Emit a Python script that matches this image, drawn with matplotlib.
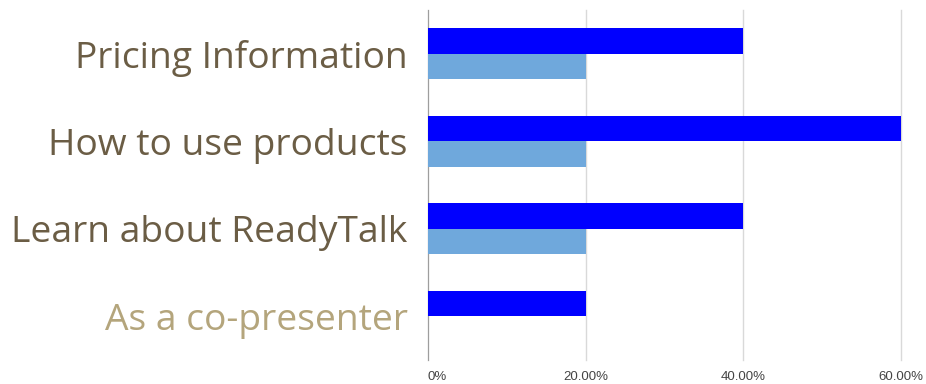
import numpy as np
import matplotlib.pyplot as plt
from matplotlib.ticker import FixedLocator

# survey answers, share of respondents
categories = ["Pricing Information", "How to use products",
              "Learn about ReadyTalk", "As a co-presenter"]
series_a = [40, 60, 40, 20]
series_b = [20, 20, 20, 0]
tick_vals = [0, 20, 40, 60]
tick_labels = ["0%", "20.00%", "40.00%", "60.00%"]

fig = plt.figure(figsize=(9.26, 3.84), dpi=100)
ax = fig.add_axes([428 / 926, 24 / 384, 473 / 926, 350 / 384])

y = np.arange(len(categories))
h = 0.29
ax.barh(y - h / 2, series_a, height=h, color="#0000ff", zorder=3)
ax.barh(y + h / 2, series_b, height=h, color="#6fa8dc", zorder=3)

ax.set_xlim(0, 60)
ax.set_ylim(len(categories) - 0.5, -0.5)
ax.xaxis.set_major_locator(FixedLocator(tick_vals))
ax.set_xticklabels(tick_labels, fontsize=9.5, color="#444444", family="Liberation Sans")
ax.get_xticklabels()[0].set_horizontalalignment("left")
ax.tick_params(axis="x", length=0, pad=8)
ax.grid(axis="x", color="#d9d9d9", linewidth=1, zorder=0, clip_on=False)

ax.set_yticks(y)
ax.set_yticklabels(categories, fontsize=26.8, family="Open Sans", color="#6b5d45")
ax.get_yticklabels()[-1].set_color("#b4a57c")
ax.tick_params(axis="y", length=0, pad=14.5)

for s in ["top", "right", "bottom"]:
    ax.spines[s].set_visible(False)
ax.spines["left"].set_color("#9e9e9e")

fig.savefig("out.png", dpi=100)
